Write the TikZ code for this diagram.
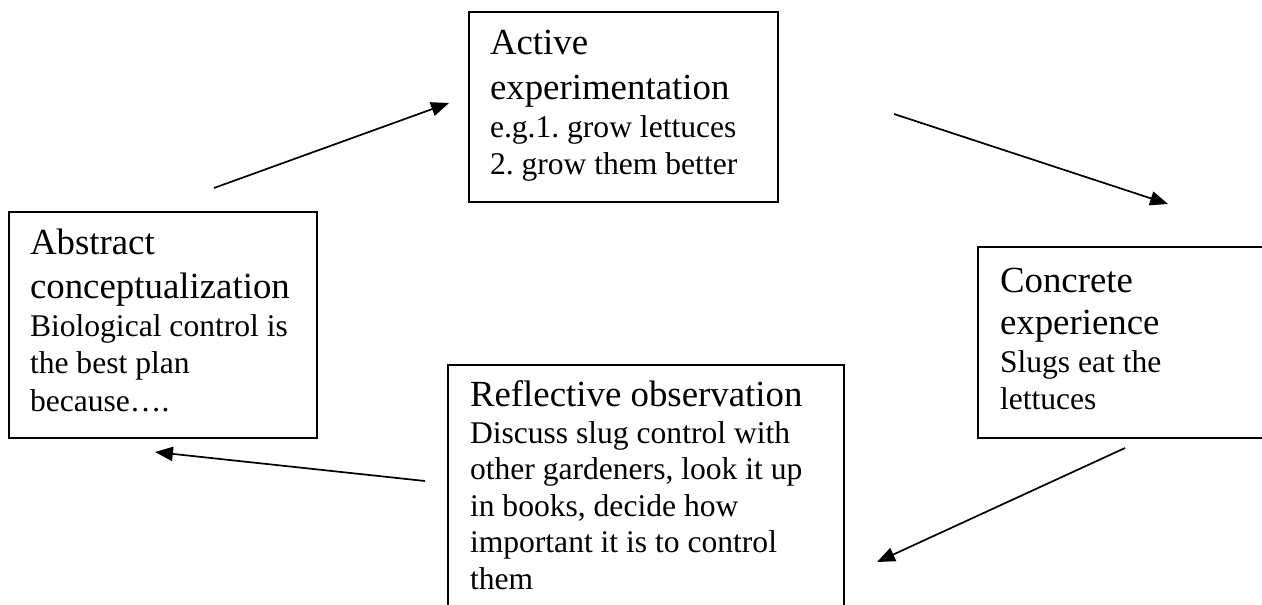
\documentclass[tikz,border=0pt]{standalone}
\usepackage{fontspec}
\setmainfont{Liberation Serif}
\usetikzlibrary{arrows.meta}
\newdimen\pxu \pxu=0.38pt
\newcommand\tline[2]{\vskip#1\pxu\setbox0\hbox{#2}\ht0=0pt \dp0=0pt \box0}
\newcommand\bigtxt{\fontsize{14}{16}\selectfont}
\newcommand\smltxt{\fontsize{12}{14}\selectfont}
\frenchspacing
\begin{document}
\begin{tikzpicture}[x=0.38pt,y=-0.38pt,
  box/.style={draw,line width=0.8pt,rectangle,inner sep=0pt,outer sep=0pt,anchor=north west},
  txt/.style={anchor=base west,inner sep=0pt,outer sep=0pt,font=\frenchspacing},
  conn/.style={line width=0.65pt,-{Triangle[length=6.8pt,width=5.4pt]}}]
\useasboundingbox (0,0) rectangle (1262,605);
\clip (0,0) rectangle (1262,605);
% boxes
\node[box,minimum width={309*0.38pt},minimum height={190*0.38pt}] (ae) at (469,12) {};
\node[box,minimum width={308*0.38pt},minimum height={226*0.38pt}] (ac) at (9,212) {};
\node[box,minimum width={396*0.38pt},minimum height={290*0.38pt}] (ro) at (448,365) {};
\node[box,minimum width={320*0.38pt},minimum height={191*0.38pt}] (ce) at (978,247) {};
% texts
\node[txt] (aet) at (490,55) {\vtop{\offinterlineskip
  \bigtxt\tline{0}{Active}\tline{45}{experimentation}
  \smltxt\tline{38}{e.g.1. grow lettuces}\tline{37}{2. grow them better}}};
\node[txt] (act) at (30,255) {\vtop{\offinterlineskip
  \bigtxt\tline{0}{Abstract}\tline{44}{conceptualization}
  \smltxt\tline{38}{Biological control is}\tline{37}{the best plan}\tline{38}{because….}}};
\node[txt] (rot) at (470,407) {\vtop{\offinterlineskip
  \bigtxt\tline{0}{Reflective observation}
  \smltxt\tline{37}{Discuss slug control with}\tline{36}{other gardeners, look it up}\tline{37}{in books, decide how}\tline{36}{important it is to control}\tline{37}{them}}};
\node[txt] (cet) at (1000,293) {\vtop{\offinterlineskip
  \bigtxt\tline{0}{Concrete}\tline{42}{experience}
  \smltxt\tline{38}{Slugs eat the}\tline{37}{lettuces}}};
% arrow ends
\coordinate (a1s) at (214,188); \coordinate (a1e) at (449,103);
\coordinate (a2s) at (894,114); \coordinate (a2e) at (1168,204);
\coordinate (a3s) at (1125,448); \coordinate (a3e) at (877,562);
\coordinate (a4s) at (425,481); \coordinate (a4e) at (155,452);
\draw[conn] (a1s) -- (a1e);
\draw[conn] (a2s) -- (a2e);
\draw[conn] (a3s) -- (a3e);
\draw[conn] (a4s) -- (a4e);
\end{tikzpicture}
\end{document}
